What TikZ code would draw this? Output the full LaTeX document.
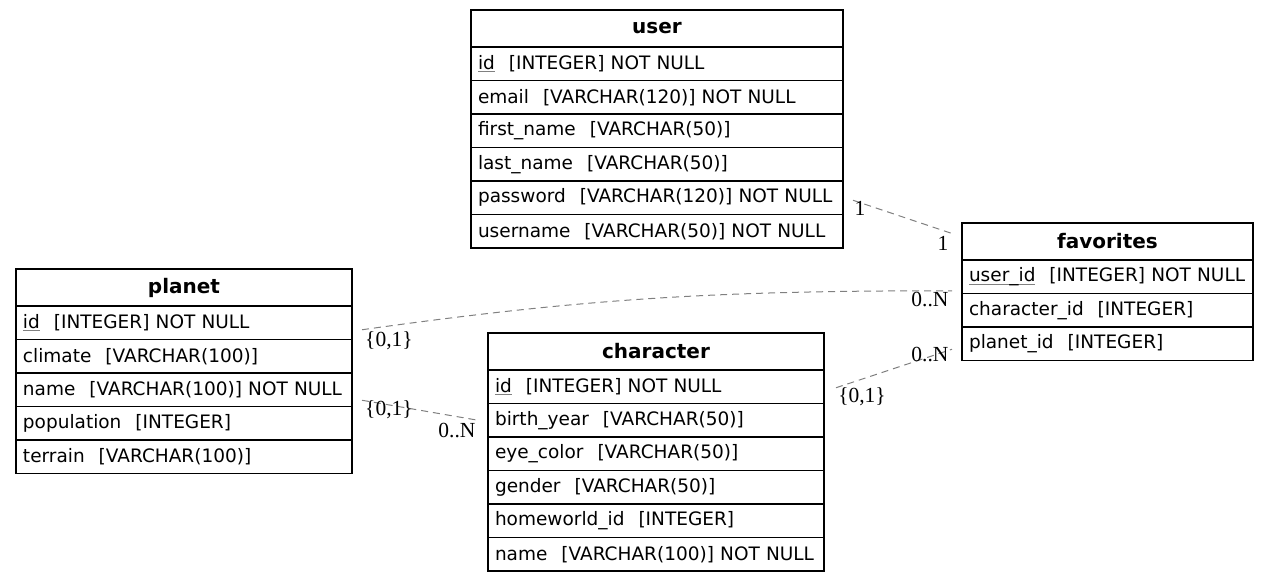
\documentclass[tikz,border=0pt]{standalone}
\usepackage{fontspec}
\setmainfont{DejaVu Sans}
\newfontfamily\lblfont{Liberation Serif}
\usetikzlibrary{positioning}

% key column: gray rule under the name
\newcommand{\pkey}[1]{\setbox0\hbox{#1}\rlap{\color{gray}\rule[-3pt]{\wd0}{1pt}}\box0}
\newcommand{\colgap}{\hspace{14pt}}

\begin{document}
\begin{tikzpicture}[x=1pt, y=-1pt,
  tbl/.style = {draw, line width=1.2pt, outer sep=0pt, inner xsep=7pt, anchor=north, text width=#1},
  head/.style = {tbl=#1, minimum height=37pt, align=center, font=\fontsize{20}{23}\selectfont\bfseries},
  field/.style = {tbl=#1, minimum height=33.5pt, align=left, font=\fontsize{18.5}{21}\selectfont},
  rel/.style = {draw=gray, line width=1pt, dash pattern=on 7pt off 5pt},
  card/.style = {font=\lblfont\fontsize{21.5}{24}\selectfont, inner sep=0pt}]
\useasboundingbox (0,0) rectangle (1269,581);

% user
\node[head=358] (u0) at (657,10) {user};
\node[field=358] (u1) [below=0pt of u0] {\pkey{id}\colgap[INTEGER] NOT NULL};
\node[field=358] (u2) [below=0pt of u1] {email\colgap[VARCHAR(120)] NOT NULL};
\node[field=358] (u3) [below=0pt of u2] {first\_name\colgap[VARCHAR(50)]};
\node[field=358] (u4) [below=0pt of u3] {last\_name\colgap[VARCHAR(50)]};
\node[field=358] (u5) [below=0pt of u4] {password\colgap[VARCHAR(120)] NOT NULL};
\node[field=358] (u6) [below=0pt of u5] {username\colgap[VARCHAR(50)] NOT NULL};

% favorites
\node[head=277] (f0) at (1107.5,223) {favorites};
\node[field=277] (f1) [below=0pt of f0] {\pkey{user\_id}\colgap[INTEGER] NOT NULL};
\node[field=277] (f2) [below=0pt of f1] {character\_id\colgap[INTEGER]};
\node[field=277] (f3) [below=0pt of f2] {planet\_id\colgap[INTEGER]};

% planet
\node[head=322] (p0) at (184,269) {planet};
\node[field=322] (p1) [below=0pt of p0] {\pkey{id}\colgap[INTEGER] NOT NULL};
\node[field=322] (p2) [below=0pt of p1] {climate\colgap[VARCHAR(100)]};
\node[field=322] (p3) [below=0pt of p2] {name\colgap[VARCHAR(100)] NOT NULL};
\node[field=322] (p4) [below=0pt of p3] {population\colgap[INTEGER]};
\node[field=322] (p5) [below=0pt of p4] {terrain\colgap[VARCHAR(100)]};

% character
\node[head=322] (c0) at (656,333) {character};
\node[field=322] (c1) [below=0pt of c0] {\pkey{id}\colgap[INTEGER] NOT NULL};
\node[field=322] (c2) [below=0pt of c1] {birth\_year\colgap[VARCHAR(50)]};
\node[field=322] (c3) [below=0pt of c2] {eye\_color\colgap[VARCHAR(50)]};
\node[field=322] (c4) [below=0pt of c3] {gender\colgap[VARCHAR(50)]};
\node[field=322] (c5) [below=0pt of c4] {homeworld\_id\colgap[INTEGER]};
\node[field=322] (c6) [below=0pt of c5] {name\colgap[VARCHAR(100)] NOT NULL};

% relations
\draw[rel] ([xshift=10pt,yshift=-2.5pt]u5.east) -- ([xshift=-10pt,yshift=8pt]f0.west);
\draw[rel] ([xshift=10pt,yshift=-7pt]p1.east) to[out=8,in=180] ([xshift=-10pt,yshift=-14pt]f1.west);
\draw[rel] ([xshift=10pt,yshift=-10.5pt]p3.east) -- ([xshift=-10pt]c2.west);
\draw[rel] ([xshift=12pt,yshift=-1pt]c1.east) -- ([xshift=-10pt,yshift=-5.5pt]f3.west);

% cardinalities
\node[card] (uf1) at (860,208) {1};
\node[card] (uf2) at (943,243) {1};
\node[card] (pf1) at (389,341) {\{0,1\}};
\node[card] (pf2) at (930,299) {0..N};
\node[card] (pc1) at (389,410) {\{0,1\}};
\node[card] (pc2) at (457,430) {0..N};
\node[card] (cf1) at (862,397) {\{0,1\}};
\node[card] (cf2) at (930,354) {0..N};
\end{tikzpicture}
\end{document}
